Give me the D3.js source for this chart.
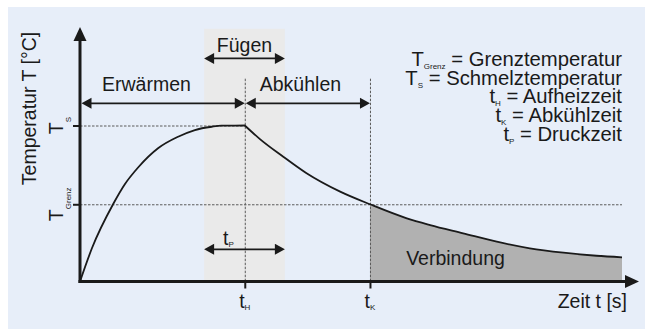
<!DOCTYPE html>
<html>
<head>
<meta charset="utf-8">
<script src="https://cdn.jsdelivr.net/npm/d3@7"></script>
<style>
  body { margin: 0; background: #fff; }
  svg { display: block; font-family: "Liberation Sans", Arimo, Arial, sans-serif; }
</style>
</head>
<body>
<div id="chart"></div>
<script>
// curve: time in % of axis, temperature in % of T_S
const heatTime = [0, 2.2, 6.1, 8.3, 10.8, 14.4, 18.1, 21.2, 24.3, 26.1, 30.4];
const heatTemp = [0, 21.3, 49.5, 62.5, 73.4, 85.4, 92.8, 97.1, 99.2, 99.9, 100];
const coolTime = [30.4, 33.2, 37.5, 41.8, 48, 53.5, 60.3, 64.6, 70.7, 76.9, 83, 89.2, 95.3, 100];
const coolTemp = [100, 91.3, 80, 69.4, 57.6, 49.5, 40.5, 36.2, 30.9, 25.5, 21.3, 18.5, 16.5, 15.5];

const tempMarks = [49.5, 100];          // T_Grenz, T_S
const tempSubs = ["Grenz", "S"];
const timeMarks = [30.4, 53.5];         // t_H, t_K
const timeSubs = ["H", "K"];
const pressBand = [22.9, 37.8];         // Fügen / t_P

const legendSym = ["T", "T", "t", "t", "t"];
const legendSub = ["Grenz", "S", "H", "K", "P"];
const legendText = ["Grenztemperatur", "Schmelztemperatur", "Aufheizzeit", "Abkühlzeit", "Druckzeit"];

(function () {
    const w = 645, h = 329;
    const ink = "#1a1a1a";

    const svg = d3.select("#chart").append("svg")
        .attr("width", w)
        .attr("height", h)
        .attr("font-family", "Liberation Sans, Arimo, Arial, sans-serif");

    const x = d3.scaleLinear().domain([0, 100]).range([80, 622]);
    const y = d3.scaleLinear().domain([0, 100]).range([281.5, 125.5]);

    svg.append("rect").attr("x", 8).attr("y", 7).attr("width", w - 8).attr("height", h - 7)
        .attr("fill", "#e7eef9");

    // Fügen band
    svg.append("rect")
        .attr("x", x(pressBand[0]))
        .attr("y", y(162))
        .attr("width", x(pressBand[1]) - x(pressBand[0]))
        .attr("height", y(0) - y(162))
        .attr("fill", "#eaeaea");

    const heat = heatTime.map((t, i) => [t, heatTemp[i]]);
    const cool = coolTime.map((t, i) => [t, coolTemp[i]]);

    // Verbindung area
    const area = d3.area()
        .x(d => x(d[0]))
        .y0(y(0))
        .y1(d => y(d[1]))
        .curve(d3.curveMonotoneX);
    svg.append("path")
        .attr("d", area(cool.filter(d => d[0] >= timeMarks[1])))
        .attr("fill", "#b1b1b1");

    // dashed guides
    const dash = svg.append("g")
        .attr("stroke", "#5a5a5a")
        .attr("stroke-width", 1)
        .attr("stroke-dasharray", "2.5,1.5")
        .attr("fill", "none");
    dash.append("line").attr("x1", x(0)).attr("x2", x(timeMarks[0]))
        .attr("y1", y(tempMarks[1]) + 0.5).attr("y2", y(tempMarks[1]) + 0.5);
    dash.append("line").attr("x1", x(0)).attr("x2", x(100))
        .attr("y1", y(tempMarks[0]) + 0.5).attr("y2", y(tempMarks[0]) + 0.5);
    timeMarks.forEach(t => {
        dash.append("line").attr("x1", x(t) + 0.5).attr("x2", x(t) + 0.5)
            .attr("y1", y(130)).attr("y2", y(0));
    });

    // curve
    const line = d3.line()
        .x(d => x(d[0]))
        .y(d => y(d[1]))
        .curve(d3.curveMonotoneX);
    svg.append("path")
        .attr("d", line(heat) + line(cool).replace(/^M/, "L"))
        .attr("fill", "none")
        .attr("stroke", ink)
        .attr("stroke-width", 1.8);

    // axes
    const yAxis = svg.append("g")
        .attr("transform", `translate(${x(0)},0)`)
        .call(d3.axisLeft(y).tickValues(tempMarks).tickSize(7).tickFormat(""));
    yAxis.select(".domain").remove();
    yAxis.selectAll(".tick line").attr("stroke", ink).attr("stroke-width", 2);

    const xAxis = svg.append("g")
        .attr("transform", `translate(0,${y(0)})`)
        .call(d3.axisBottom(x).tickValues(timeMarks).tickSize(7).tickFormat(""));
    xAxis.select(".domain").remove();
    xAxis.selectAll(".tick line").attr("stroke", ink).attr("stroke-width", 2);

    svg.append("line")
        .attr("x1", x(0)).attr("x2", x(0))
        .attr("y1", y(0) + 1.5).attr("y2", 40)
        .attr("stroke", ink).attr("stroke-width", 3);
    svg.append("path")
        .attr("d", `M${x(0)},27L${x(0) - 6.5},41L${x(0) + 6.5},41Z`)
        .attr("fill", ink);
    svg.append("line")
        .attr("x1", x(0) - 1.5).attr("x2", 626)
        .attr("y1", y(0)).attr("y2", y(0))
        .attr("stroke", ink).attr("stroke-width", 3);
    svg.append("path")
        .attr("d", `M639,${y(0)}L625,${y(0) - 6.5}L625,${y(0) + 6.5}Z`)
        .attr("fill", ink);

    // double arrows
    function arrow(x1, x2, yy) {
        const g = svg.append("g");
        g.append("line")
            .attr("x1", x1 + 8).attr("x2", x2 - 8)
            .attr("y1", yy).attr("y2", yy)
            .attr("stroke", ink).attr("stroke-width", 1.8);
        g.append("path")
            .attr("d", `M${x1},${yy}L${x1 + 10},${yy - 5.5}L${x1 + 10},${yy + 5.5}Z` +
                `M${x2},${yy}L${x2 - 10},${yy - 5.5}L${x2 - 10},${yy + 5.5}Z`)
            .attr("fill", ink);
    }
    arrow(x(0) + 1.5, x(timeMarks[0]), y(114.2));
    arrow(x(timeMarks[0]) + 1, x(timeMarks[1]), y(114.2));
    arrow(x(pressBand[0]), x(pressBand[1]), y(143));
    arrow(x(pressBand[0]), x(pressBand[1]), y(20.6));

    // texts
    const txt = svg.append("g").attr("fill", ink).attr("font-size", 19.5);

    txt.append("text")
        .attr("transform", "translate(36,108.5) rotate(-90)")
        .attr("text-anchor", "middle")
        .text("Temperatur T [°C]");

    txt.append("text")
        .attr("x", (x(pressBand[0]) + x(pressBand[1])) / 2)
        .attr("y", 52)
        .attr("text-anchor", "middle")
        .text("Fügen");
    txt.append("text").attr("x", x(0) + 22).attr("y", 91).text("Erwärmen");
    txt.append("text").attr("x", x(timeMarks[0]) + 15).attr("y", 91).text("Abkühlen");
    txt.append("text").attr("x", 455.5).attr("y", 265).attr("text-anchor", "middle").text("Verbindung");
    txt.append("text").attr("x", 627).attr("y", 308).attr("text-anchor", "end").text("Zeit t [s]");

    function symbol(sel, sym, sub, dy) {
        sel.append("tspan").text(sym);
        sel.append("tspan").attr("font-size", 8).attr("dy", dy).text(sub);
    }

    tempMarks.forEach((v, i) => {
        const t = txt.append("text")
            .attr("transform", `translate(63,${y(v)}) rotate(-90)`)
            .attr("text-anchor", "middle");
        symbol(t, "T", tempSubs[i], 8);
    });

    timeMarks.forEach((v, i) => {
        const t = txt.append("text")
            .attr("x", x(v))
            .attr("y", 308)
            .attr("text-anchor", "middle");
        symbol(t, "t", timeSubs[i], 2);
    });

    const tp = txt.append("text").attr("x", x(pressBand[0]) + 19).attr("y", 245);
    symbol(tp, "t", "P", 1.5);

    legendText.forEach((s, i) => {
        const t = txt.append("text")
            .attr("x", 622)
            .attr("y", 66 + i * 18.7)
            .attr("font-size", 20.3)
            .attr("text-anchor", "end");
        symbol(t, legendSym[i], legendSub[i], 3);
        t.append("tspan").attr("dy", -3).text(" = " + s);
    });
})();
</script>
</body>
</html>
